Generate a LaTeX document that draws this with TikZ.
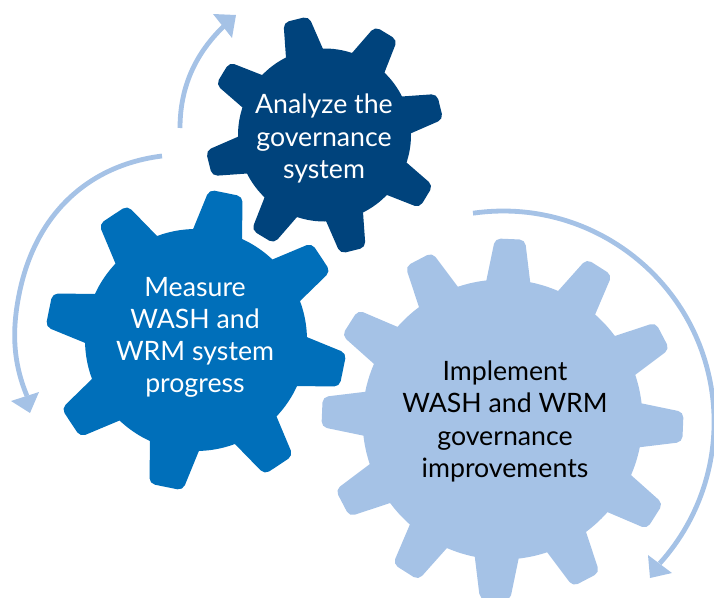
\documentclass[tikz,border=0pt]{standalone}
\usepackage{fontspec}
\setmainfont{Lato}
\definecolor{gdark}{HTML}{00437C}
\definecolor{gmid}{HTML}{006FBA}
\definecolor{glight}{HTML}{A5C2E6}
\newcommand{\gearshape}[9]{% cx cy r R hb ht start n color
  \fill[#9] (#1pt,-#2pt) circle[radius=#3pt];
  \pgfmathsetmacro{\gstep}{360/#8}
  \pgfmathsetmacro{\glast}{#8-1}
  \pgfmathsetmacro{\gbase}{#3*cos(asin(#5/#3))-0.3}
  \foreach \gi in {0,...,\glast}{
    \pgfmathsetmacro{\gang}{#7+\gi*\gstep}
    \begin{scope}[shift={(#1pt,-#2pt)},rotate=\gang]
      \fill[#9,rounded corners=5.5pt] (\gbase pt,-#5pt) -- (#4pt,-#6pt) -- (#4pt,#6pt) -- (\gbase pt,#5pt);
    \end{scope}
  }
}
\tikzset{
  flow/.style={draw=glight,line width=4.8pt},
  head/.style={fill=glight},
  geartext/.style={align=center,font=\fontsize{26.7}{32.2}\selectfont,inner sep=0pt}
}
\begin{document}
\begin{tikzpicture}[x=1pt,y=1pt]
\useasboundingbox (0,-597) rectangle (714,0);
\gearshape{502.5}{419.5}{140}{180.6}{22}{15}{-2.4}{12}{glight}
\gearshape{196}{340}{111}{150}{25}{17}{-11.5}{8}{gmid}
\gearshape{324.5}{135}{86.5}{119}{19}{13}{13.8}{8}{gdark}
% flow arrows
\coordinate (a1s) at (180,-128);
\coordinate (a1e) at (224,-26);
\draw[flow] (a1s) .. controls (180,-85) and (197,-52) .. (a1e);
\fill[head] (213,-14) -- (236,-15) -- (232,-38) -- cycle;
\coordinate (a2s) at (162,-156);
\coordinate (a2e) at (27,-396);
\draw[flow] (a2s) .. controls (90,-165) and (37,-212) .. (20,-290) .. controls (12,-327) and (12,-360) .. (a2e);
\fill[head] (11,-401) -- (39,-392) -- (30,-413) -- cycle;
\coordinate (a3s) at (473,-213.2);
\draw[flow] (a3s) arc[start angle=98.2,end angle=-42.1,radius=211pt];
\fill[head] (648,-555) -- (672,-573) -- (650,-578) -- cycle;
% labels
\node[geartext,text=white] (analyze) at (324,-138.5) {Analyze the\\governance\\system};
\node[geartext,text=white] (measure) at (195,-337.5) {Measure\\WASH and\\WRM system\\progress};
\node[geartext,text=black] (implement) at (505,-421.5) {Implement\\WASH and WRM\\governance\\improvements};
\end{tikzpicture}
\end{document}
